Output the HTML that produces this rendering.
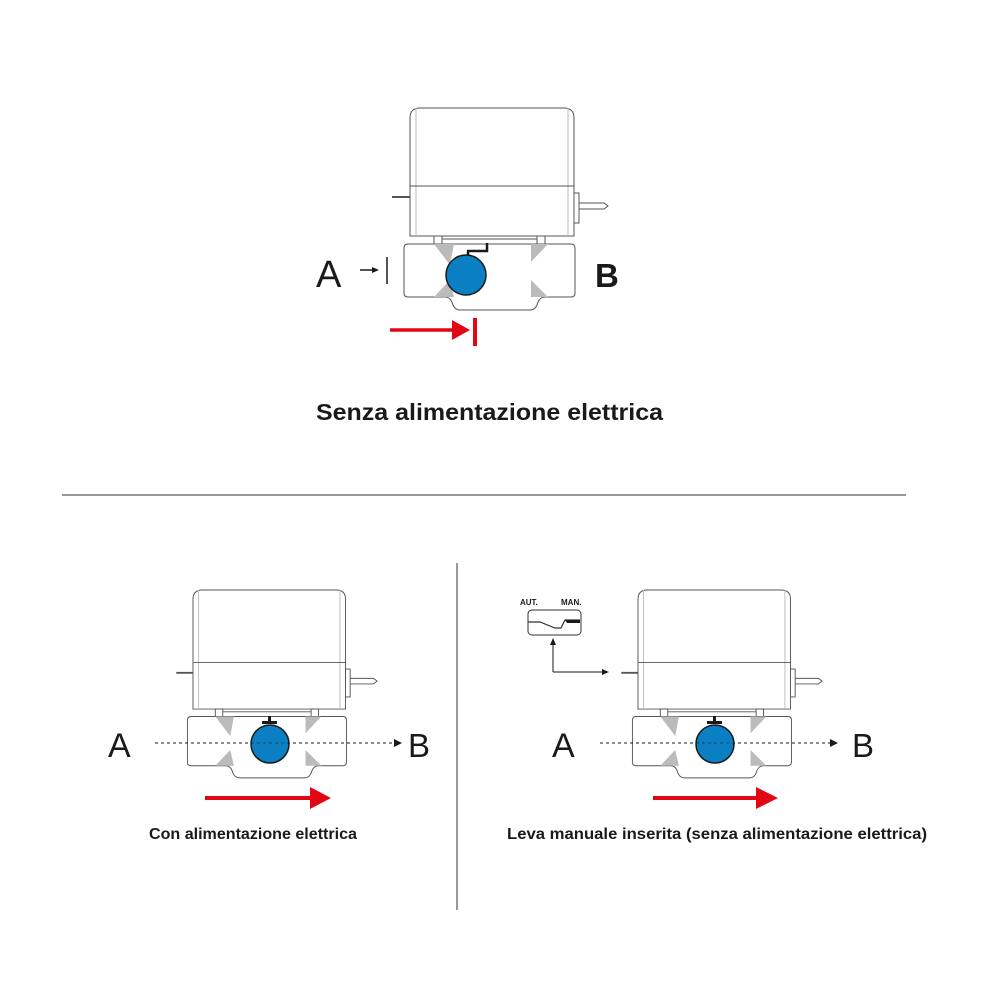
<!DOCTYPE html>
<html><head><meta charset="utf-8"><style>
html,body{margin:0;padding:0;background:#fff;}
svg{display:block;}
text{font-family:"Liberation Sans",sans-serif;fill:#1a1a1a;}
</style></head><body>
<svg width="1000" height="1000" viewBox="0 0 1000 1000" xmlns="http://www.w3.org/2000/svg">
<defs>
<g id="valve" fill="none" stroke="#555" stroke-width="1">
  <path d="M410,236 L410,118 Q410,108 420,108 L564,108 Q574,108 574,118 L574,236 Z" fill="#fff"/>
  <path d="M416,108 L416,236 M568,108 L568,236" stroke="#bbb"/>
  <line x1="410" y1="186" x2="574" y2="186"/>
  <line x1="392" y1="197" x2="410" y2="197" stroke-width="2"/>
  <rect x="574" y="193" width="5" height="30" fill="#fff"/>
  <path d="M579,203 L604,203 L608,206 L604,209 L579,209" />
  <rect x="434" y="236" width="8" height="8" fill="#fff"/>
  <rect x="537" y="236" width="8" height="8" fill="#fff"/>
  <line x1="442" y1="239" x2="537" y2="239"/>
  <path d="M408,244 L571,244 Q575,244 575,248 L575,293 Q575,297 571,297 L545,297 Q540,297 538,302 Q536,310 530,310 L460,310 Q454,310 452,302 Q450,297 445,297 L408,297 Q404,297 404,293 L404,248 Q404,244 408,244 Z" fill="#fff"/>
  <polygon points="434,244 454,244 450,265" fill="#bbb" stroke="none"/>
  <polygon points="434,297 454,297 450,280" fill="#bbb" stroke="none"/>
  <polygon points="531,244 548,244 531,262" fill="#bbb" stroke="none"/>
  <polygon points="531,297 548,297 531,280" fill="#bbb" stroke="none"/>
</g>
</defs>

<use href="#valve"/>
<path d="M468,256 L468,251 L487,251 L487,243" fill="none" stroke="#1a1a1a" stroke-width="2.5"/>
<circle cx="466" cy="275" r="20" fill="#0a7fc4" stroke="#1a1a1a" stroke-width="1.5"/>
<text x="316" y="287" font-size="38">A</text>
<text x="595" y="287" font-size="33" font-weight="bold">B</text>
<line x1="360" y1="270" x2="374" y2="270" stroke="#1a1a1a" stroke-width="1.5"/>
<polygon points="372,267 379,270 372,273" fill="#1a1a1a"/>
<line x1="387" y1="257" x2="387" y2="284" stroke="#1a1a1a" stroke-width="1.5"/>
<line x1="390" y1="330" x2="456" y2="330" stroke="#e30613" stroke-width="3.5"/>
<polygon points="452,320 470,330 452,340" fill="#e30613"/>
<rect x="473" y="318" width="4" height="28" fill="#e30613"/>
<text x="316" y="420" font-size="23" font-weight="bold" textLength="347" lengthAdjust="spacingAndGlyphs">Senza alimentazione elettrica</text>

<line x1="62" y1="495" x2="906" y2="495" stroke="#333" stroke-width="1"/>
<line x1="457" y1="563" x2="457" y2="910" stroke="#333" stroke-width="1"/>

<g transform="translate(193,590) scale(0.93) translate(-410,-108)"><use href="#valve"/></g>
<line x1="155" y1="743" x2="396" y2="743" stroke="#1a1a1a" stroke-width="1" stroke-dasharray="3,3"/>
<polygon points="394,739 402,743 394,747" fill="#1a1a1a"/>
<rect x="268" y="716" width="3" height="6" fill="#1a1a1a"/>
<rect x="262" y="721" width="15" height="3" fill="#1a1a1a"/>
<circle cx="270" cy="744" r="19" fill="#0a7fc4" stroke="#1a1a1a" stroke-width="1.5"/>
<line x1="155" y1="743" x2="396" y2="743" stroke="#1a1a1a" stroke-width="1" stroke-dasharray="3,3" opacity="0.6"/>
<text x="108" y="757" font-size="34">A</text>
<text x="408" y="757" font-size="33">B</text>
<line x1="205" y1="798" x2="314" y2="798" stroke="#e30613" stroke-width="4"/>
<polygon points="310,787 331,798 310,809" fill="#e30613"/>
<text x="149" y="839" font-size="15.5" font-weight="bold" textLength="208" lengthAdjust="spacingAndGlyphs">Con alimentazione elettrica</text>

<g transform="translate(638,590) scale(0.93) translate(-410,-108)"><use href="#valve"/></g>
<line x1="600" y1="743" x2="831" y2="743" stroke="#1a1a1a" stroke-width="1" stroke-dasharray="3,3"/>
<polygon points="830,739 838,743 830,747" fill="#1a1a1a"/>
<rect x="713" y="716" width="3" height="6" fill="#1a1a1a"/>
<rect x="707" y="721" width="15" height="3" fill="#1a1a1a"/>
<circle cx="715" cy="744" r="19" fill="#0a7fc4" stroke="#1a1a1a" stroke-width="1.5"/>
<line x1="600" y1="743" x2="831" y2="743" stroke="#1a1a1a" stroke-width="1" stroke-dasharray="3,3" opacity="0.6"/>
<text x="552" y="757" font-size="34">A</text>
<text x="852" y="757" font-size="33">B</text>
<line x1="653" y1="798" x2="760" y2="798" stroke="#e30613" stroke-width="4"/>
<polygon points="756,787 778,798 756,809" fill="#e30613"/>
<text x="507" y="839" font-size="15.5" font-weight="bold" textLength="420" lengthAdjust="spacingAndGlyphs">Leva manuale inserita (senza alimentazione elettrica)</text>

<text x="520" y="605" font-size="8" font-weight="bold">AUT.</text>
<text x="561" y="605" font-size="8" font-weight="bold">MAN.</text>
<rect x="528" y="610" width="53" height="25" rx="4" fill="#fff" stroke="#333" stroke-width="1"/>
<path d="M528,622 L540,622 L555,628 L561,628 L565,620 L580,620" fill="none" stroke="#333" stroke-width="1.2"/>
<path d="M565,620 L580,620 L580,623 L567,623 Z" fill="#1a1a1a"/>
<path d="M553,672 L553,644 M553,672 L603,672" fill="none" stroke="#1a1a1a" stroke-width="1"/>
<polygon points="550,645 553,638 556,645" fill="#1a1a1a"/>
<polygon points="602,669 609,672 602,675" fill="#1a1a1a"/>
</svg>
</body></html>
